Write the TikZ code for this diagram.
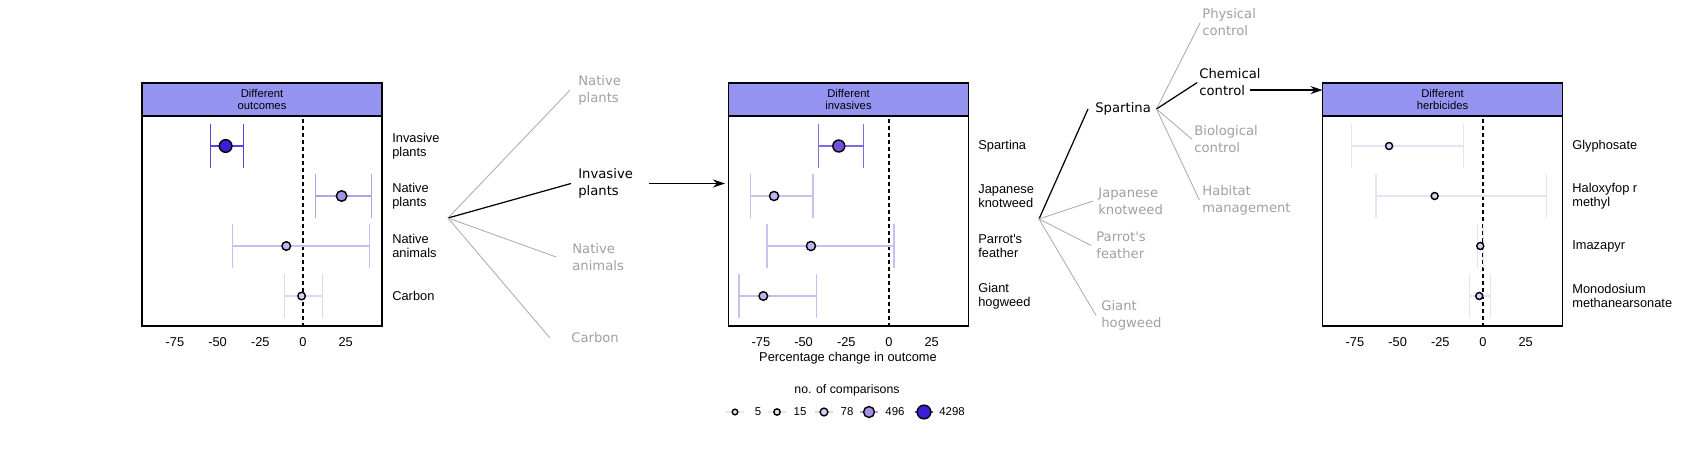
\documentclass[tikz,border=0pt]{standalone}
\usepackage{fontspec}
\setmainfont{Liberation Sans}
\newfontfamily\treefont{DejaVu Sans}
\usepackage{tikz}
\usetikzlibrary{positioning, arrows.meta}

\definecolor{headblue}{HTML}{9494F0}
\definecolor{treegray}{HTML}{A0A0A0}
\definecolor{cbig}{HTML}{3B1FD8}
\definecolor{cspart}{HTML}{7150DC}
\definecolor{cmid}{HTML}{A68FE6}
\definecolor{clow}{HTML}{C2B3EE}
\definecolor{cfew}{HTML}{D8CFF2}
\definecolor{cmin}{HTML}{E6E0F5}

\begin{document}
\begin{tikzpicture}[x=0.02cm, y=-0.02cm,
    panel/.style={rectangle, draw=black, line width=1pt, outer sep=0pt, inner sep=0pt,
                  minimum width=4.8cm, minimum height=4.2cm},
    head/.style={rectangle, draw=black, line width=1pt, outer sep=0pt, inner sep=0pt, fill=headblue,
                 minimum width=4.8cm, minimum height=0.66cm, align=center, font=\fontsize{6.4}{6.9}\selectfont},
    lab/.style={anchor=west, inner sep=0pt, align=left, font=\fontsize{7.3}{8}\selectfont},
    tick/.style={inner sep=0pt, font=\fontsize{7.3}{8}\selectfont},
    tree/.style={anchor=west, inner sep=0pt, align=left, text=treegray, font=\treefont\fontsize{7.5}{9.7}\selectfont},
    branch/.style={treegray!85, line width=0.5pt},
    chosen/.style={black, line width=0.7pt},
    zero/.style={black, line width=0.6pt, dash pattern=on 2.3pt off 1.7pt},
    bar/.style={line width=0.7pt},
    dot/.style={draw=black, line width=0.8pt},
    arrow/.style={-{Stealth[length=2.4mm, width=1.6mm]}, line width=0.7pt}
]
    \useasboundingbox (0,0) rectangle (1701,454);

    % Panel boxes
    \node[panel] (outbox) at (262,221) {};
    \node[head, above=0pt of outbox] (outhead) {Different\\outcomes};
    \node[panel] (invbox) at (848.5,221) {};
    \node[head, above=0pt of invbox] (invhead) {Different\\invasives};
    \node[panel] (herbbox) at (1442.5,221) {};
    \node[head, above=0pt of herbbox] (herbhead) {Different\\herbicides};
    \draw[line width=1.6pt] (outhead.south west) -- (outhead.south east);
    \draw[line width=1.6pt] (invhead.south west) -- (invhead.south east);
    \draw[line width=1.6pt] (herbhead.south west) -- (herbhead.south east);

    % Outcomes
    \begin{scope}[shift={(303,0)}, x=0.03416cm]
        \draw[zero] (0,119) -- (0,326);
        \foreach \ry/\lo/\mid/\hi/\r/\c in {146/-54.3/-45.3/-35.0/3.6pt/cbig, 196/7.4/22.6/40.2/3.0pt/cmid,
                                           246/-41.4/-9.8/38.8/2.45pt/clow, 296/-10.9/-0.8/11.3/2.15pt/cfew}{
            \draw[bar, color=\c!85!white] (\lo,\ry) -- (\hi,\ry) (\lo,\ry-22) -- (\lo,\ry+22) (\hi,\ry-22) -- (\hi,\ry+22);
            \draw[dot, fill=\c] (\mid,\ry) circle[radius=\r];
        }
        \foreach \t in {-75,-50,-25,0,25}
            \node[tick] (outtick\t) at (\t,342) {\t};
    \end{scope}
    \node[lab] (labinvp) at (392,146) {Invasive\\plants};
    \node[lab] (labnatp) at (392,196) {Native\\plants};
    \node[lab] (labnata) at (392,246) {Native\\animals};
    \node[lab] (labcarb) at (392,296) {Carbon};

    % Invasives
    \begin{scope}[shift={(889,0)}, x=0.03416cm]
        \draw[zero] (0,119) -- (0,326);
        \foreach \ry/\lo/\mid/\hi/\r/\c in {146/-41.4/-29.4/-15.0/3.4pt/cspart, 196/-81.0/-67.3/-44.5/2.6pt/clow,
                                           246/-71.4/-45.7/2.9/2.6pt/clow, 296/-87.8/-73.6/-42.3/2.45pt/clow}{
            \draw[bar, color=\c!85!white] (\lo,\ry) -- (\hi,\ry) (\lo,\ry-22) -- (\lo,\ry+22) (\hi,\ry-22) -- (\hi,\ry+22);
            \draw[dot, fill=\c] (\mid,\ry) circle[radius=\r];
        }
        \foreach \t in {-75,-50,-25,0,25}
            \node[tick] (invtick\t) at (\t,342) {\t};
    \end{scope}
    \node[lab] (labspart) at (978,146) {Spartina};
    \node[lab] (labjapk) at (978,196) {Japanese\\knotweed};
    \node[lab] (labparr) at (978,246) {Parrot\textquotesingle s\\feather};
    \node[lab] (labgiant) at (978,296) {Giant\\hogweed};
    \node[tick] (xtitle) at (848,358) {Percentage change in outcome};

    % Herbicides
    \begin{scope}[shift={(1483,0)}, x=0.03416cm]
        \draw[zero] (0,119) -- (0,326);
        \foreach \ry/\lo/\mid/\hi/\r/\c in {146/-77.1/-55.0/-11.5/2.0pt/cfew, 196/-62.6/-28.3/37.3/2.0pt/cfew,
                                           246/-3.3/-1.6/0.3/2.0pt/cfew, 296/-8.0/-2.2/4.5/2.0pt/cfew}{
            \draw[bar, color=\c!60!white] (\lo,\ry) -- (\hi,\ry) (\lo,\ry-22) -- (\lo,\ry+22) (\hi,\ry-22) -- (\hi,\ry+22);
            \draw[dot, fill=\c] (\mid,\ry) circle[radius=\r];
        }
        \foreach \t in {-75,-50,-25,0,25}
            \node[tick] (herbtick\t) at (\t,342) {\t};
    \end{scope}
    \node[lab] (labglyph) at (1572,146) {Glyphosate};
    \node[lab] (labhalox) at (1572,196) {Haloxyfop r\\methyl};
    \node[lab] (labimaz) at (1572,246) {Imazapyr};
    \node[lab] (labmono) at (1572,296) {Monodosium\\methanearsonate};

    % Legend
    \node[tick, font=\fontsize{7}{8}\selectfont] (legtitle) at (847,390) {no. of comparisons};
    \foreach \x/\r/\c/\nx/\n in {735/1.6pt/cmin/758/5, 777/1.8pt/cmin/800/15, 824/2.2pt/cfew/847/78,
                                 869/3.1pt/cmid/895/496, 924/3.9pt/cbig/952/4298}{
        \draw[bar, color=\c!85!white] (\x-9,412) -- (\x+9,412);
        \draw[dot, fill=\c] (\x,412) circle[radius=\r];
        \node[inner sep=0pt, font=\fontsize{6.5}{7}\selectfont] (leg\n) at (\nx,412) {\n};
    }

    % Tree of outcomes
    \coordinate (fork1) at (448,218);
    \node[tree] (trnatp) at (578,90) {Native\\plants};
    \node[tree, text=black] (trinvp) at (578,183.5) {Invasive\\plants};
    \node[tree] (trnata) at (572,257) {Native\\animals};
    \node[tree] (trcarb) at (571,338) {Carbon};
    \draw[branch] (fork1) -- ([xshift=-4.5pt]trnatp.west);
    \draw[chosen] (fork1) -- ([xshift=-4pt]trinvp.west);
    \draw[branch] (fork1) -- ([xshift=-9pt]trnata.west);
    \draw[branch] (fork1) -- ([xshift=-12pt]trcarb.west);
    \coordinate (invout) at ([xshift=9pt]trinvp.east);
    \draw[arrow, shorten >=2pt] (invout) -- (invout -| invbox.west);

    % Tree of invasives
    \coordinate (fork2) at (1039,219);
    \node[tree, text=black] (trspart) at (1095,109) {Spartina};
    \node[tree] (trjapk) at (1098,201) {Japanese\\knotweed};
    \node[tree] (trparr) at (1096,245.5) {Parrot\textquotesingle s\\feather};
    \node[tree] (trgiant) at (1101,315.5) {Giant\\hogweed};
    \draw[chosen] (fork2) -- ([xshift=-4pt]trspart.west);
    \draw[branch] (fork2) -- ([xshift=-2.8pt]trjapk.west);
    \draw[branch] (fork2) -- ([xshift=-2.8pt]trparr.west);
    \draw[branch] (fork2) -- ([xshift=-2.8pt]trgiant.west);

    % Tree of controls
    \coordinate (fork3) at ([xshift=3pt]trspart.east);
    \node[tree] (trphys) at (1202,22.5) {Physical\\control};
    \node[tree, text=black] (trchem) at (1199,82.5) {Chemical\\control};
    \node[tree] (trbio) at (1194,139.5) {Biological\\control};
    \node[tree] (trhab) at (1202,200) {Habitat\\management};
    \draw[branch] (fork3) -- ([xshift=-1pt]trphys.west);
    \draw[chosen] (fork3) -- ([xshift=-1pt]trchem.west);
    \draw[branch] (fork3) -- ([xshift=-1pt]trbio.west);
    \draw[branch] (fork3) -- ([xshift=-1.5pt]trhab.west);
    \coordinate (chemout) at ([xshift=-6.3pt, yshift=-4.3pt]trchem.east);
    \draw[arrow] (chemout) -- (chemout -| herbhead.west);

\end{tikzpicture}
\end{document}
